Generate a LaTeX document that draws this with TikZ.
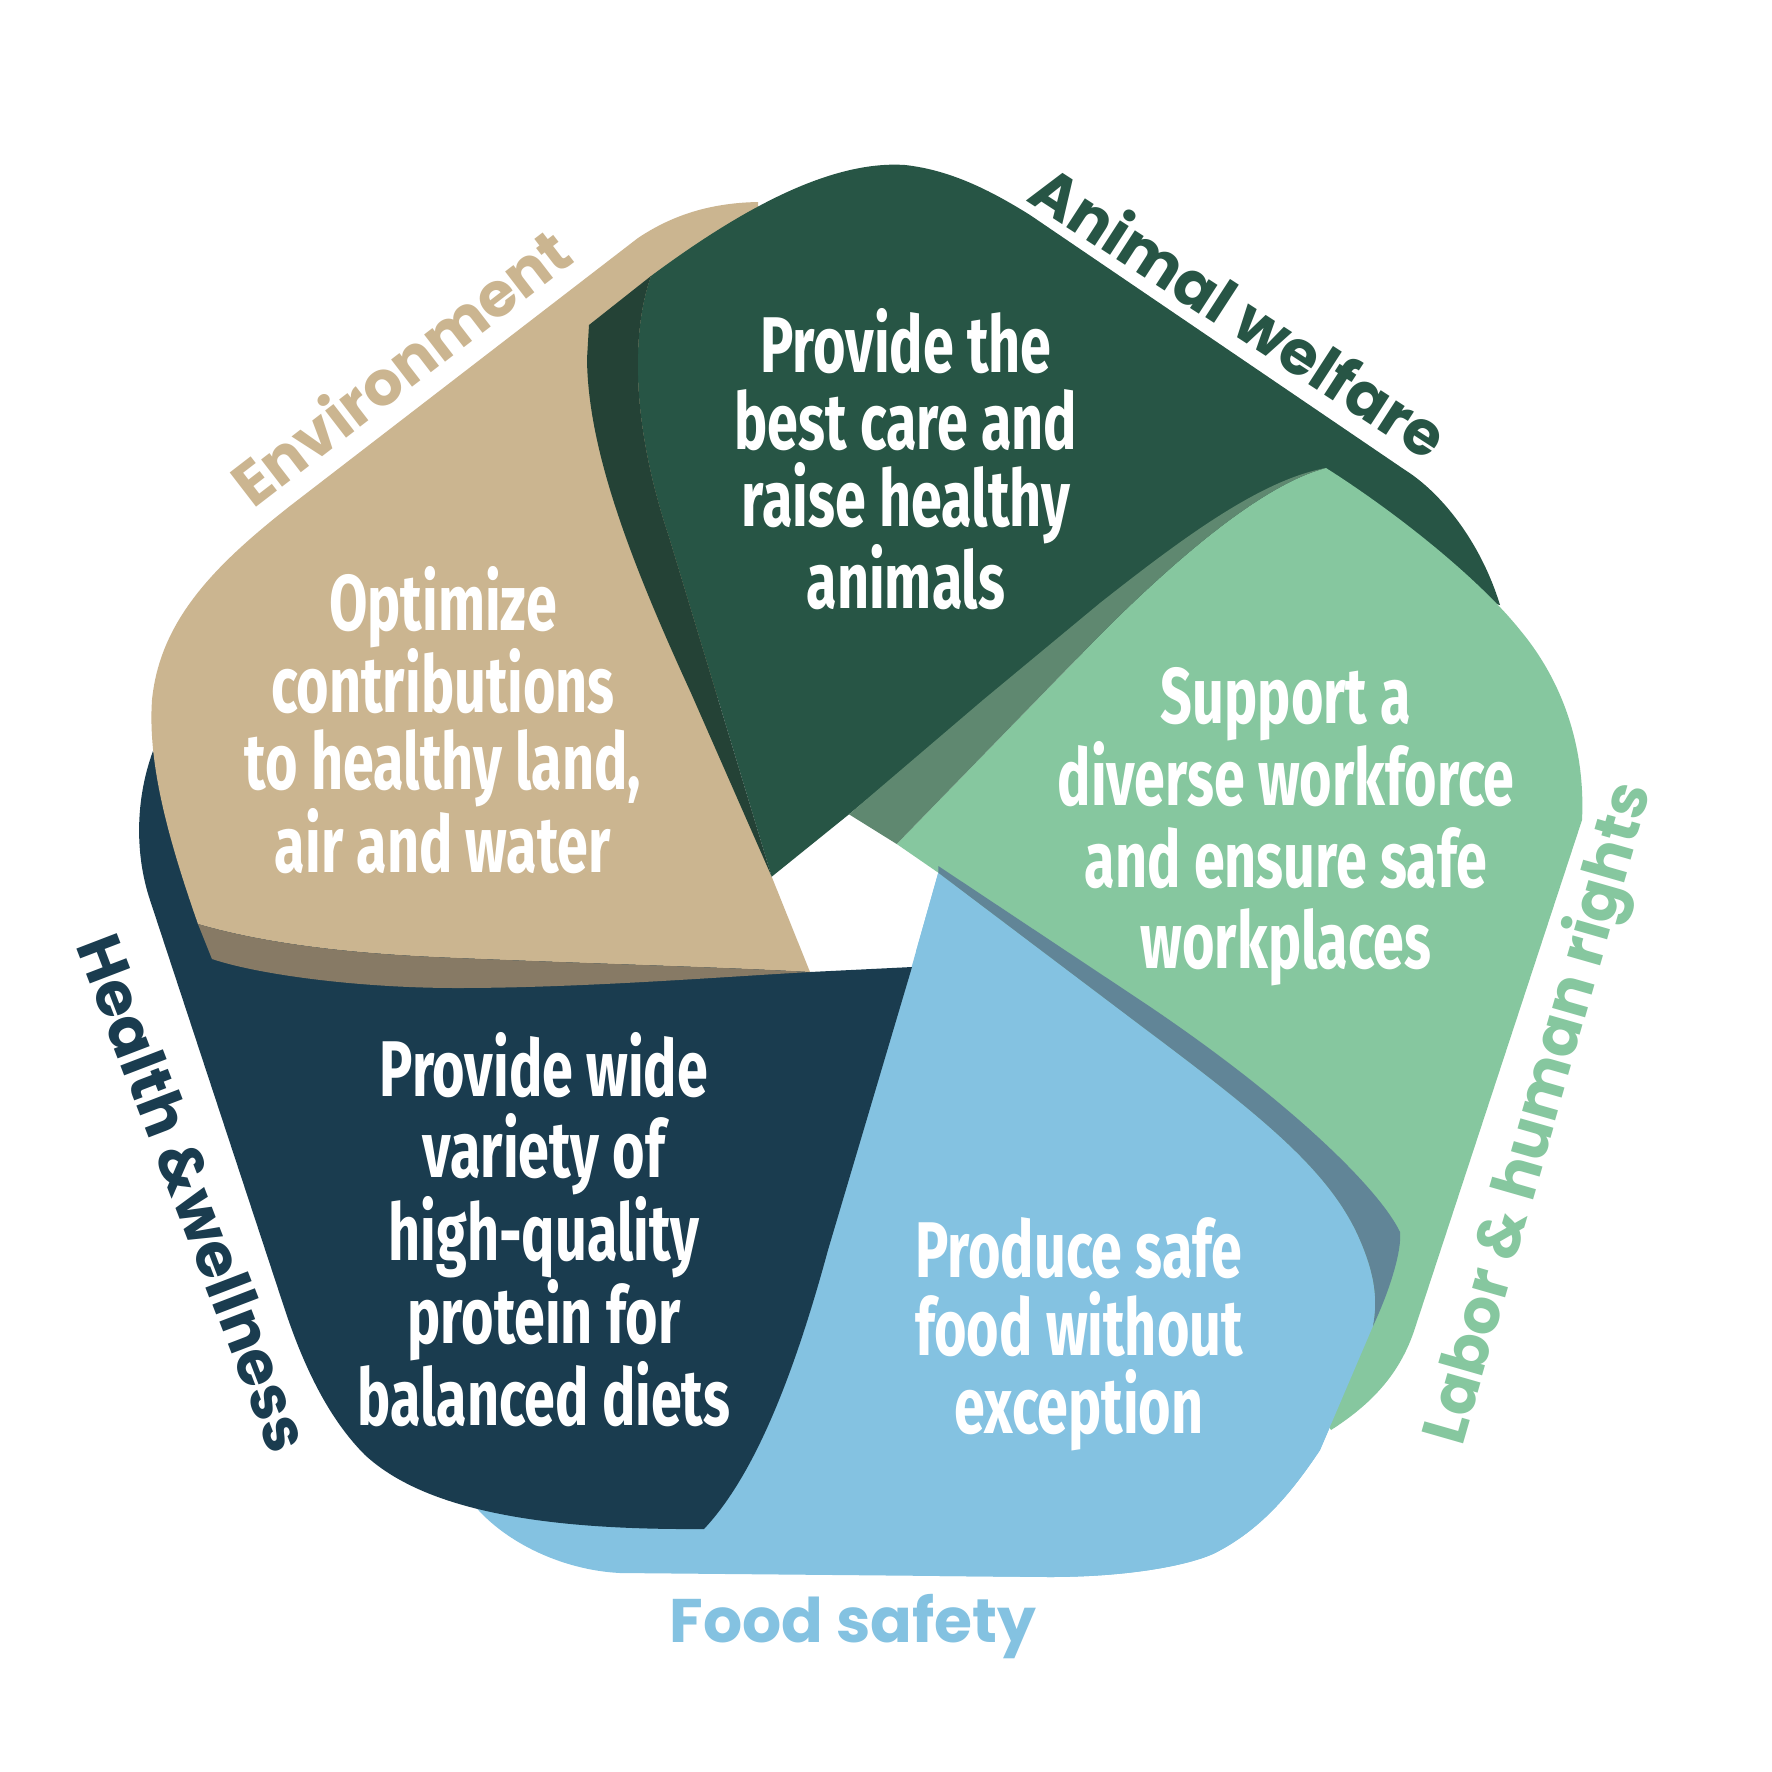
\documentclass[tikz,border=0pt]{standalone}
\usepackage{fontspec}
\newfontfamily\goalfont[FakeStretch=0.705]{Fira Sans}
\newfontfamily\tagfont{Poppins}
\definecolor{welfare}{HTML}{275545}
\definecolor{welfareshade}{HTML}{244236}
\definecolor{enviro}{HTML}{CBB590}
\definecolor{enviroshade}{HTML}{877A65}
\definecolor{labor}{HTML}{86C79F}
\definecolor{laborshade}{HTML}{5F8870}
\definecolor{food}{HTML}{84C2E1}
\definecolor{foodshade}{HTML}{618597}
\definecolor{health}{HTML}{1A3C4F}
% the food petal is filled twice (under health, over labor)
\newcommand\foodpetal{(938.3,872.7) -- (911.7,966.7) -- (850,1150) -- (600,1400) -- (470,1500)
    .. controls (500,1540) and (560,1570) .. (620,1573) -- (1049,1577)
    .. controls (1130,1577) and (1190,1565) .. (1215,1553)
    .. controls (1260,1530) and (1290,1495) .. (1320,1450) -- (1373,1326)
    .. controls (1378,1300) and (1375,1275) .. (1360,1240)
    .. controls (1330,1170) and (1260,1115) .. (1140,1025) -- cycle}
\newcommand\foodfold{(938.3,866) -- (1140,1000)
    .. controls (1290,1100) and (1380,1190) .. (1400,1232)
    .. controls (1402,1250) and (1390,1290) .. (1373,1326)
    .. controls (1378,1300) and (1375,1275) .. (1360,1240)
    .. controls (1330,1170) and (1260,1115) .. (1140,1025) -- (938.3,872.7) -- cycle}
\begin{document}
\begin{tikzpicture}[x=1pt,y=-1pt,
    goal/.style={text=white,align=center,inner sep=0pt,anchor=north,
        font=\goalfont\bfseries\fontsize{79}{77}\selectfont},
    tag/.style={inner sep=0pt,font=\tagfont\bfseries\fontsize{61.5}{62}\selectfont}]
\useasboundingbox (0,0) rectangle (1772,1772);
\fill[white] (0,0) rectangle (1772,1772);
% food safety, first pass
\fill[food] \foodpetal;
% health
\fill[health] (912,967) -- (828,1250) .. controls (790,1390) and (750,1480) .. (704,1529)
    .. controls (560,1530) and (430,1515) .. (365,1455)
    .. controls (330,1420) and (305,1370) .. (285,1310) -- (150,900)
    .. controls (135,855) and (135,800) .. (153,751) -- (200,850) -- (650,930) -- (810,972) -- cycle;
% environment
\fill[enviro] (810,972) -- (771.7,876.7) -- (722,752) -- (700,500) -- (760,260) -- (758,202)
    .. controls (705,203) and (668,218) .. (638,238) -- (290,506)
    .. controls (215,565) and (160,620) .. (152,700)
    .. controls (148,760) and (165,830) .. (198,924)
    .. controls (280,948) and (380,955) .. (457,958)
    .. controls (600,964) and (720,967) .. (810,972) -- cycle;
\fill[enviroshade] (198,924) .. controls (280,948) and (380,955) .. (457,958)
    .. controls (600,964) and (720,967) .. (810,972)
    .. controls (720,977) and (580,988) .. (457,988)
    .. controls (360,988) and (260,975) .. (212,959) -- cycle;
% animal welfare
\fill[welfare] (771.7,876.7) -- (669,537) .. controls (630,420) and (632,330) .. (651,276)
    .. controls (740,210) and (830,160) .. (905,165)
    .. controls (950,170) and (990,190) .. (1030,215) -- (1405,470)
    .. controls (1440,492) and (1480,540) .. (1500,605)
    -- (1300,560) -- (1100,650) -- (1000,690) -- (849,814.3) -- cycle;
\fill[welfareshade] (589,325) -- (651,276) .. controls (632,330) and (630,420) .. (669,537)
    -- (771.7,876.7) -- (691,693) .. controls (630,560) and (588,450) .. (587,359) -- cycle;
% labor
\fill[labor] (896.7,844) -- (1100,635) .. controls (1170,565) and (1260,485) .. (1326,468)
    .. controls (1400,515) and (1480,580) .. (1520,630)
    .. controls (1570,690) and (1585,760) .. (1582,820) -- (1415,1328)
    .. controls (1400,1375) and (1370,1405) .. (1331,1430)
    -- (1280,1350) -- (1000,950) -- (938.3,872.7) -- cycle;
\fill[laborshade] (849,814.3) -- (983,700) -- (1100,603)
    .. controls (1180,540) and (1260,480) .. (1326,468)
    .. controls (1260,485) and (1170,565) .. (1100,635) -- (896.7,844) -- cycle;
% food safety again, over labor
\scope
    \clip (916,800) rectangle (1772,1772);
    \fill[food] \foodpetal;
    \fill[foodshade] \foodfold;
\endscope
% goals
\node[goal] (care) at (906,308) {Provide the\\best care and\\raise healthy\\animals};
\node[goal] (land) at (443,566) {Optimize\\contributions\\to healthy land,\\air and water};
\node[goal,font=\goalfont\bfseries\fontsize{79}{81.5}\selectfont] (work) at (1286,667)
    {Support a\\diverse workforce\\and ensure safe\\workplaces};
\node[goal,font=\goalfont\bfseries\fontsize{79}{78}\selectfont] (safe) at (1079,1217)
    {Produce safe\\food without\\exception};
\node[goal,font=\goalfont\bfseries\fontsize{79}{81.5}\selectfont] (diet) at (544,1032)
    {Provide wide\\variety of\\high-quality\\protein for\\balanced diets};
% outer tags
\foreach \n/\x/\y/\a/\c/\t in {env/400/366/37.6/enviro/Environment,
    wel/1240/311/-33/welfare/Animal welfare,
    lab/1541/1114/74/labor/Labor \& human rights,
    saf/853/1627/0/food/Food safety,
    hea/194/1193/-69/health/Health \&wellness} {
    \node[tag,text=\c,rotate=\a] (\n) at (\x,\y) {\t};
}
\end{tikzpicture}
\end{document}
